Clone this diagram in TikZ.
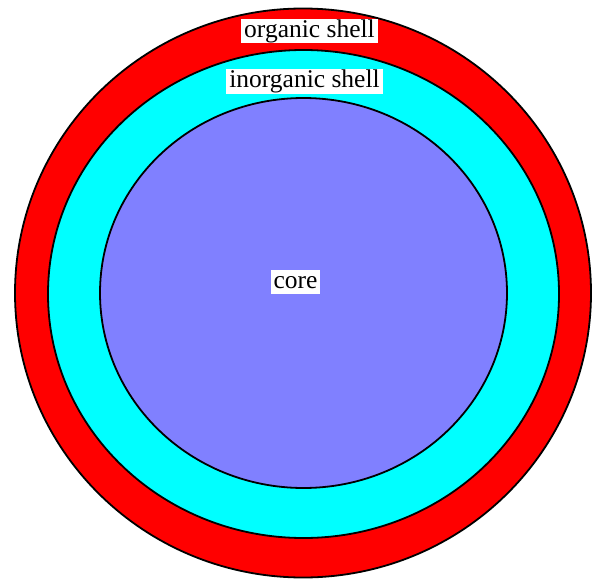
\documentclass[tikz,border=0pt]{standalone}
\usepackage{fontspec}
\setmainfont{Liberation Serif}
\definecolor{corecol}{RGB}{128,128,255}
\definecolor{shellcyan}{RGB}{0,255,255}
\definecolor{shellred}{RGB}{255,0,0}
\tikzset{
    layer/.style={draw=black, line width=1.8pt},
    tag/.style={fill=white, inner xsep=3pt, inner ysep=1pt, text height=17pt, text depth=5pt, font=\rmfamily\fontsize{25.5}{29}\selectfont}
}
\begin{document}
\begin{tikzpicture}[x=1pt, y=-1pt]
    \useasboundingbox (0,0) rectangle (594,578);
    \draw[layer, fill=shellred] (303,293) ellipse [x radius=288, y radius=284.5];
    \draw[layer, fill=shellcyan] (303.5,294) ellipse [x radius=255.5, y radius=244];
    \draw[layer, fill=corecol] (303.5,293) ellipse [x radius=203.5, y radius=195];
    \node[tag] (organic) at (309.5,31.5) {organic shell};
    \node[tag] (inorganic) at (304.5,81.5) {inorganic shell};
    \node[tag] (core) at (295.5,282) {core};
\end{tikzpicture}
\end{document}
